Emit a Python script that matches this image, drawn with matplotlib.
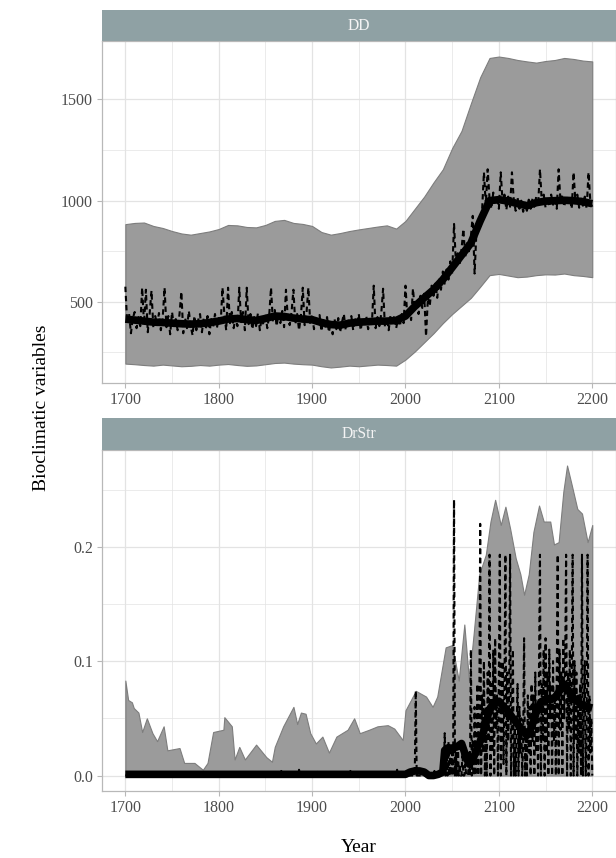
import numpy as np
import matplotlib.pyplot as plt

plt.rcParams['font.family'] = ['Liberation Serif', 'DejaVu Serif']

# ── DD ───────────────────────────────────────────────────────────────────────
dd_band_years = np.arange(1700, 2201, 10)
dd_upper = [884, 890, 892, 875, 865, 850, 838, 832, 840, 848,
            860, 880, 878, 870, 868, 880, 900, 905, 890, 885,
            875, 845, 832, 840, 850, 858, 865, 872, 878, 862,
            900, 960, 1020, 1090, 1155, 1260, 1345, 1480, 1610, 1705,
            1712, 1705, 1695, 1688, 1682, 1690, 1695, 1705, 1700, 1692,
            1688]
dd_lower = [195, 192, 188, 185, 190, 186, 182, 184, 188, 185,
            190, 193, 188, 184, 186, 192, 198, 200, 195, 192,
            190, 182, 176, 180, 185, 182, 186, 190, 188, 185,
            215, 255, 300, 345, 395, 440, 480, 520, 575, 632,
            638, 630, 622, 625, 632, 636, 635, 640, 632, 628,
            622]

dd_obs_years = np.arange(1700, 2201, 2)
dd_obs = [575, 395, 440, 345, 420, 450, 370, 425, 380, 570,
          390, 560, 350, 440, 555, 370, 430, 385, 445, 360,
          420, 570, 375, 430, 340, 450, 380, 415, 360, 440,
          550, 345, 420, 370, 455, 380, 335, 430, 360, 410,
          440, 350, 420, 365, 430, 340, 415, 375, 440, 370,
          420, 385, 570, 440, 360, 570, 395, 450, 370, 425,
          380, 570, 400, 450, 360, 570, 390, 440, 365, 425,
          380, 445, 360, 420, 385, 440, 370, 430, 570, 400,
          460, 380, 440, 395, 455, 375, 560, 420, 385, 450,
          560, 390, 440, 360, 430, 570, 385, 445, 570, 390,
          440, 365, 425, 380, 435, 355, 410, 370, 425, 350,
          400, 340, 415, 365, 420, 350, 400, 440, 360, 415,
          375, 430, 360, 420, 385, 440, 360, 415, 380, 430,
          365, 420, 390, 580, 370, 425, 380, 440, 565, 375,
          420, 360, 435, 390, 430, 370, 415, 380, 440, 395,
          580, 420, 470, 410, 565, 460, 500, 440, 530, 470,
          540, 330, 520, 480, 580, 530, 590, 520, 610, 560,
          650, 590, 660, 610, 700, 640, 885, 690, 740, 680,
          760, 860, 720, 790, 750, 820, 925, 640, 850, 890,
          860, 950, 1140, 980, 1155, 1010, 960, 1040, 980, 1020,
          960, 1140, 990, 1030, 955, 1020, 970, 1140, 1000, 950,
          1015, 960, 1000, 945, 990, 950, 1005, 960, 1010, 970,
          1020, 975, 1155, 990, 1030, 965, 1015, 970, 1030, 980,
          1010, 960, 1155, 995, 1025, 970, 1020, 980, 1015, 960,
          1140, 990, 1030, 965, 1010, 975, 1020, 960, 1140, 990,
          970]

dd_smooth_years = np.arange(1700, 2201, 10)
dd_smooth = [415, 410, 405, 400, 398, 395, 392, 390, 392, 398,
             405, 415, 418, 412, 408, 418, 430, 428, 420, 415,
             412, 398, 388, 385, 395, 400, 402, 405, 405, 408,
             430, 478, 520, 560, 610, 670, 730, 790, 900, 1000,
             1005, 998, 985, 975, 990, 998, 1000, 1002, 1000, 995,
             985]

# ── DrStr ────────────────────────────────────────────────────────────────────
drstr_band_years = [1700, 1703, 1707, 1709, 1714, 1718, 1723, 1729, 1734, 1741,
                    1745, 1758, 1763, 1774, 1783, 1788, 1794, 1805, 1806, 1814,
                    1817, 1822, 1828, 1840, 1851, 1857, 1860, 1869, 1880, 1884,
                    1888, 1893, 1898, 1904, 1911, 1918, 1926, 1938, 1945, 1951,
                    1961, 1970, 1981, 1988, 1997, 2000, 2011, 2022, 2029, 2034,
                    2043, 2050, 2057, 2063, 2068, 2073, 2079, 2086, 2091, 2096,
                    2102, 2107, 2112, 2118, 2123, 2127, 2132, 2137, 2143, 2148,
                    2155, 2159, 2164, 2169, 2173, 2178, 2184, 2189, 2195, 2200]
drstr_upper = [0.083, 0.066, 0.064, 0.059, 0.055, 0.038, 0.050, 0.037, 0.030, 0.043,
               0.022, 0.024, 0.011, 0.011, 0.005, 0.011, 0.038, 0.040, 0.051, 0.043,
               0.014, 0.025, 0.014, 0.027, 0.016, 0.012, 0.025, 0.043, 0.060, 0.045,
               0.055, 0.054, 0.037, 0.028, 0.034, 0.020, 0.034, 0.040, 0.050, 0.037,
               0.040, 0.043, 0.044, 0.041, 0.031, 0.057, 0.074, 0.069, 0.060, 0.069,
               0.112, 0.114, 0.083, 0.132, 0.083, 0.124, 0.176, 0.193, 0.222, 0.241,
               0.219, 0.235, 0.216, 0.190, 0.176, 0.158, 0.176, 0.213, 0.236, 0.222,
               0.222, 0.202, 0.204, 0.248, 0.271, 0.254, 0.233, 0.229, 0.204, 0.219]

drstr_obs_years = [1700, 1800, 1801, 1802, 1866, 1867, 1868, 1885, 1886, 1887,
                   1904, 1905, 1906, 1922, 1923, 1924, 1940, 1941, 1942, 1990,
                   1991, 1992, 2009, 2010, 2011, 2012, 2030, 2031, 2032, 2039] + \
                  list(range(2040, 2201))
drstr_obs = [0.0, 0.0, 0.004, 0.0, 0.0, 0.004, 0.0, 0.0, 0.005, 0.0,
             0.0, 0.004, 0.0, 0.0, 0.004, 0.0, 0.0, 0.004, 0.0, 0.0,
             0.005, 0.0, 0.0, 0.005, 0.074, 0.0, 0.0, 0.004, 0.0, 0.0,
             # 2040-2079
             0.0, 0.0, 0.037, 0.0, 0.02, 0.0, 0.03, 0.0, 0.025, 0.0,
             0.02, 0.0, 0.241, 0.0, 0.02, 0.0, 0.03, 0.0, 0.01, 0.0,
             0.0, 0.02, 0.0, 0.0, 0.01, 0.0, 0.0, 0.0, 0.02, 0.0,
             0.11, 0.0, 0.03, 0.0, 0.06, 0.0, 0.02, 0.08, 0.0, 0.05,
             # 2080-2119
             0.22, 0.0, 0.07, 0.02, 0.10, 0.0, 0.06, 0.0, 0.09, 0.03,
             0.193, 0.0, 0.08, 0.02, 0.11, 0.0, 0.12, 0.04, 0.07, 0.0,
             0.09, 0.193, 0.0, 0.06, 0.10, 0.01, 0.08, 0.193, 0.0, 0.09,
             0.03, 0.07, 0.193, 0.0, 0.06, 0.11, 0.0, 0.05, 0.0, 0.04,
             # 2120-2159
             0.08, 0.0, 0.06, 0.02, 0.05, 0.0, 0.03, 0.12, 0.0, 0.04,
             0.0, 0.07, 0.02, 0.06, 0.0, 0.08, 0.03, 0.07, 0.0, 0.09,
             0.02, 0.06, 0.0, 0.10, 0.193, 0.0, 0.08, 0.03, 0.11, 0.0,
             0.12, 0.02, 0.09, 0.0, 0.11, 0.05, 0.08, 0.0, 0.10, 0.03,
             # 2160-2200
             0.07, 0.0, 0.09, 0.193, 0.0, 0.11, 0.04, 0.09, 0.0, 0.12,
             0.05, 0.10, 0.193, 0.0, 0.09, 0.04, 0.11, 0.0, 0.08, 0.193,
             0.0, 0.10, 0.03, 0.09, 0.0, 0.07, 0.02, 0.08, 0.0, 0.193,
             0.0, 0.06, 0.10, 0.0, 0.05, 0.193, 0.0, 0.07, 0.02, 0.05,
             0.0]

drstr_smooth_years = [1700, 1800, 1900, 2000, 2005, 2010, 2015, 2020, 2025, 2030,
                      2035, 2040, 2042, 2045, 2050, 2055, 2060, 2065, 2068, 2072,
                      2076, 2080, 2085, 2090, 2095, 2100, 2105, 2110, 2115, 2120,
                      2125, 2130, 2135, 2140, 2145, 2150, 2155, 2160, 2165, 2170,
                      2175, 2180, 2185, 2190, 2195, 2200]
drstr_smooth = [0.001, 0.001, 0.001, 0.001, 0.003, 0.004, 0.004, 0.003, 0.0, 0.0,
                0.001, 0.003, 0.022, 0.024, 0.024, 0.025, 0.028, 0.016, 0.010, 0.014,
                0.022, 0.030, 0.042, 0.058, 0.064, 0.065, 0.060, 0.056, 0.050, 0.045,
                0.040, 0.035, 0.042, 0.055, 0.064, 0.067, 0.066, 0.068, 0.074, 0.079,
                0.074, 0.068, 0.064, 0.061, 0.060, 0.059]

x_ticks = [1700, 1800, 1900, 2000, 2100, 2200]

STRIP = '#8FA1A4'
BAND = '#9B9B9B'
GRID = '#E3E3E3'
FRAME = '#B8B8B8'
W, H = 616, 858


def box(left, top, right, bottom):
    """Pixel box -> figure fraction rect."""
    return [left / W, 1 - bottom / H, (right - left) / W, (bottom - top) / H]


def expand(values):
    lo, hi = min(values), max(values)
    pad = 0.05 * (hi - lo)
    return lo - pad, hi + pad


def draw_panel(fig, rect, strip_rect, title,
               band_x, lower, upper, obs_x, obs, sm_x, sm,
               yticks, ylabels, yminor, ylim):
    ax = fig.add_axes(rect)
    ax.fill_between(band_x, lower, upper, facecolor=BAND,
                    edgecolor='#7d7d7d', linewidth=0.8, zorder=2)
    ax.plot(obs_x, obs, color='black', linewidth=1.5, dashes=(2.6, 1.8), zorder=3)
    ax.plot(sm_x, sm, color='black', linewidth=5.5, solid_capstyle='butt',
            solid_joinstyle='round', zorder=4)

    ax.set_xlim(1675, 2225)
    ax.set_ylim(*ylim)
    ax.set_xticks(x_ticks)
    ax.set_xticks([1750, 1850, 1950, 2050, 2150], minor=True)
    ax.set_yticks(yticks)
    ax.set_yticklabels(ylabels)
    ax.set_yticks(yminor, minor=True)
    ax.grid(which='major', color=GRID, linewidth=0.9, zorder=0)
    ax.grid(which='minor', color=GRID, linewidth=0.5, zorder=0)
    ax.set_axisbelow(True)
    ax.tick_params(which='major', length=3.5, width=0.8, color=FRAME,
                   labelcolor='#4D4D4D', labelsize=11.5, pad=3)
    ax.tick_params(which='minor', length=0)
    for s in ax.spines.values():
        s.set_color(FRAME)
        s.set_linewidth(0.9)

    st = fig.add_axes(strip_rect)
    st.set_facecolor(STRIP)
    st.set_xticks([])
    st.set_yticks([])
    for s in st.spines.values():
        s.set_visible(False)
    st.text(0.5, 0.5, title, ha='center', va='center', color='#F4F4F4',
            fontsize=11.2, transform=st.transAxes)
    return ax


fig = plt.figure(figsize=(W / 100, H / 100), dpi=100)

draw_panel(fig, box(102, 41, 615.6, 383), box(102, 10, 615.6, 41), 'DD',
           dd_band_years, dd_lower, dd_upper, dd_obs_years, dd_obs,
           dd_smooth_years, dd_smooth,
           [500, 1000, 1500], ['500', '1000', '1500'], [250, 750, 1250],
           expand(dd_lower + dd_upper + dd_obs))

draw_panel(fig, box(102, 450, 615.6, 791), box(102, 418, 615.6, 450), 'DrStr',
           drstr_band_years, 0, drstr_upper, drstr_obs_years, drstr_obs,
           drstr_smooth_years, drstr_smooth,
           [0.0, 0.1, 0.2], ['0.0', '0.1', '0.2'], [0.05, 0.15, 0.25],
           expand([0.0] + drstr_upper + drstr_obs))

fig.text(359 / W, 1 - 848 / H, 'Year', ha='center', va='center', fontsize=14)
fig.text(42 / W, 1 - 408 / H, 'Bioclimatic variables', ha='center', va='center',
         rotation=90, fontsize=14)

fig.savefig('out.png', dpi=100)
